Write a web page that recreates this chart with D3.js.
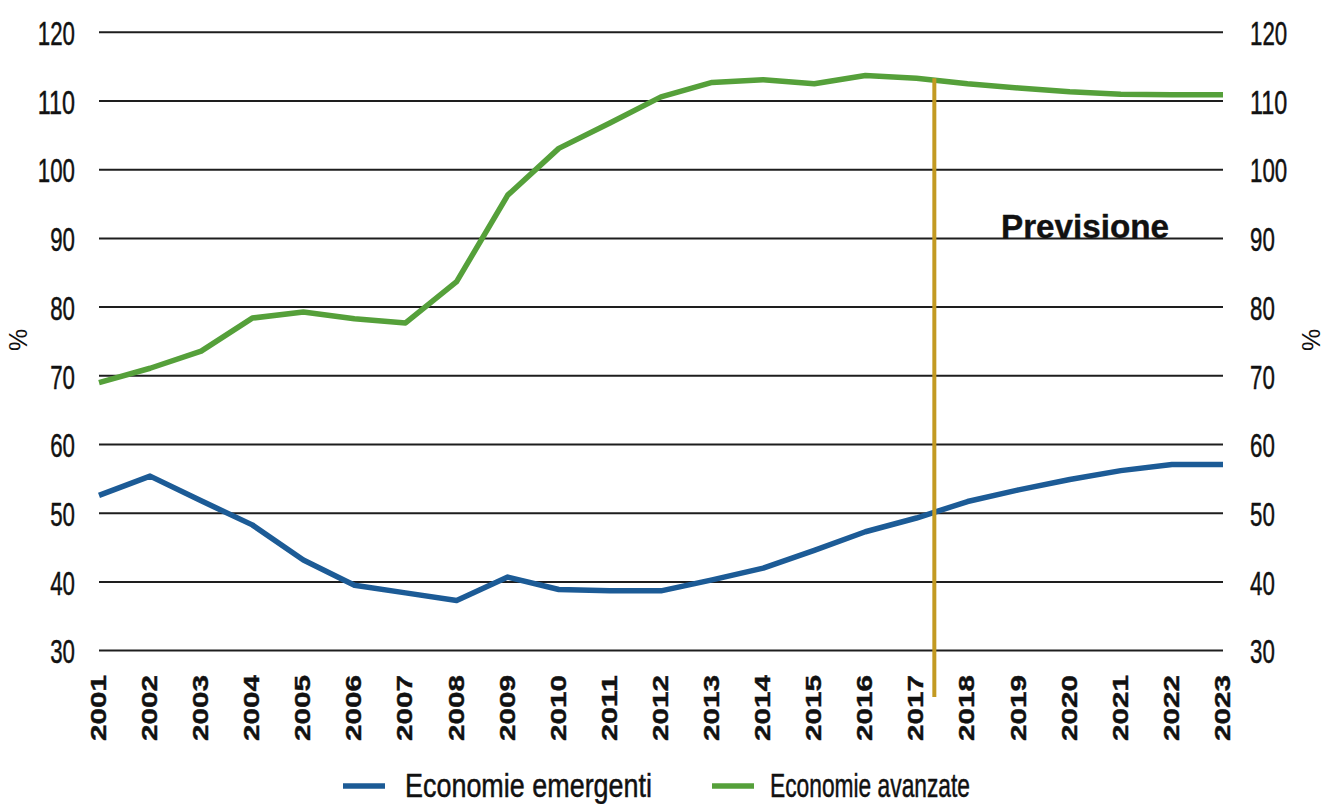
<!DOCTYPE html>
<html>
<head>
<meta charset="utf-8">
<script src="https://cdn.jsdelivr.net/npm/d3@7"></script>
<style>
  html, body { margin: 0; padding: 0; background: #ffffff; }
  svg { display: block; }
  text { font-family: "Liberation Sans", Arial, sans-serif; fill: #111; }
</style>
</head>
<body>
<svg id="chart" width="1326" height="804"></svg>
<script>
// Years on the horizontal axis
const years = d3.range(2001, 2024);

// Debito in % del PIL – economie emergenti
const emergenti = [52.6, 55.4, 51.8, 48.3, 43.2, 39.5, 38.4, 37.3, 40.7, 38.9, 38.7, 38.7,
                   40.3, 42.0, 44.6, 47.3, 49.3, 51.7, 53.4, 54.9, 56.2, 57.1, 57.1];

// Debito in % del PIL – economie avanzate
const avanzate = [69.0, 71.1, 73.6, 78.4, 79.3, 78.3, 77.7, 83.7, 96.3, 103.1, 106.8, 110.6,
                  112.7, 113.1, 112.5, 113.7, 113.3, 112.5, 111.9, 111.35, 111.0, 110.9, 110.9];

// Gridline / tick values
const yTicks = [30, 40, 50, 60, 70, 80, 90, 100, 110, 120];

// Where the forecast period begins
const forecastStart = 2017.35;

const seriesNames = ["Economie emergenti", "Economie avanzate"];
const seriesColors = ["#1c5b96", "#55a03a"];

const svg = d3.select("#chart");

const x = d3.scaleLinear().domain([2001, 2023]).range([99, 1223]);
const y = d3.scaleLinear().domain([30, 120]).range([650.6, 32.3]);

// Horizontal gridlines
svg.append("g").selectAll("line")
  .data(yTicks)
  .join("line")
  .attr("x1", x(2001)).attr("x2", x(2023))
  .attr("y1", d => y(d)).attr("y2", d => y(d))
  .attr("stroke", "#1e1e1e")
  .attr("stroke-width", 2);

// Left and right value axes (labels only)
function styleAxis(g) {
  g.select(".domain").remove();
  g.selectAll(".tick line").remove();
  g.selectAll(".tick text")
    .attr("font-size", 34)
    .attr("fill", "#111")
    .attr("stroke", "#111")
    .attr("stroke-width", 0.5)
    .attr("font-family", "\"Liberation Sans\", Arial, sans-serif")
    .attr("dy", "0.36em")
    .attr("textLength", d => String(d).length * 12.4)
    .attr("lengthAdjust", "spacingAndGlyphs");
}
svg.append("g")
  .attr("transform", `translate(${x(2001) - 24},0)`)
  .call(d3.axisLeft(y).tickValues(yTicks).tickSize(0).tickPadding(0))
  .call(styleAxis);
svg.append("g")
  .attr("transform", `translate(${x(2023) + 27},0)`)
  .call(d3.axisRight(y).tickValues(yTicks).tickSize(0).tickPadding(0))
  .call(styleAxis);

// Year labels, rotated
svg.append("g").selectAll("text")
  .data(years)
  .join("text")
  .attr("transform", d => `translate(${x(d) - 1},675) rotate(-90)`)
  .attr("text-anchor", "end")
  .attr("dy", "0.36em")
  .attr("font-size", 22)
  .attr("font-weight", "bold")
  .attr("stroke", "#111")
  .attr("stroke-width", 0.4)
  .attr("textLength", 66)
  .attr("lengthAdjust", "spacingAndGlyphs")
  .text(d => d);

// Unit labels on both sides
[18, 1311].forEach(px => {
  svg.append("text")
    .attr("transform", `translate(${px},340) rotate(-90)`)
    .attr("text-anchor", "middle")
    .attr("dy", "0.36em")
    .attr("font-size", 25)
    .text("%");
});

// Series lines
const line = d3.line()
  .x((d, i) => x(years[i]))
  .y(d => y(d));

[emergenti, avanzate].forEach((vals, k) => {
  svg.append("path")
    .datum(vals)
    .attr("d", line)
    .attr("fill", "none")
    .attr("stroke", seriesColors[k])
    .attr("stroke-width", 5.5)
    .attr("stroke-linejoin", "round");
});

// Forecast divider: starts on the advanced-economies line
const i0 = Math.floor(forecastStart - 2001);
const t = forecastStart - 2001 - i0;
const topVal = avanzate[i0] + (avanzate[i0 + 1] - avanzate[i0]) * t;
svg.append("line")
  .attr("x1", x(forecastStart)).attr("x2", x(forecastStart))
  .attr("y1", y(topVal) - 2)
  .attr("y2", 697)
  .attr("stroke", "#c39a22")
  .attr("stroke-width", 4);

svg.append("text")
  .attr("x", 1001)
  .attr("y", 238)
  .attr("font-size", 33)
  .attr("font-weight", "bold")
  .attr("stroke", "#111")
  .attr("stroke-width", 0.4)
  .attr("textLength", 168)
  .attr("lengthAdjust", "spacingAndGlyphs")
  .text("Previsione");

// Legend
const legendItems = [
  { name: seriesNames[0], color: seriesColors[0], x0: 343, tx: 405, w: 247 },
  { name: seriesNames[1], color: seriesColors[1], x0: 712, tx: 770, w: 200 }
];
const lg = svg.append("g");
legendItems.forEach(it => {
  lg.append("line")
    .attr("x1", it.x0).attr("x2", it.x0 + 42)
    .attr("y1", 786).attr("y2", 786)
    .attr("stroke", it.color)
    .attr("stroke-width", 5.5);
  lg.append("text")
    .attr("x", it.tx)
    .attr("y", 797)
    .attr("font-size", 34)
    .attr("stroke", "#111")
    .attr("stroke-width", 0.5)
    .attr("textLength", it.w)
    .attr("lengthAdjust", "spacingAndGlyphs")
    .text(it.name);
});
</script>
</body>
</html>
